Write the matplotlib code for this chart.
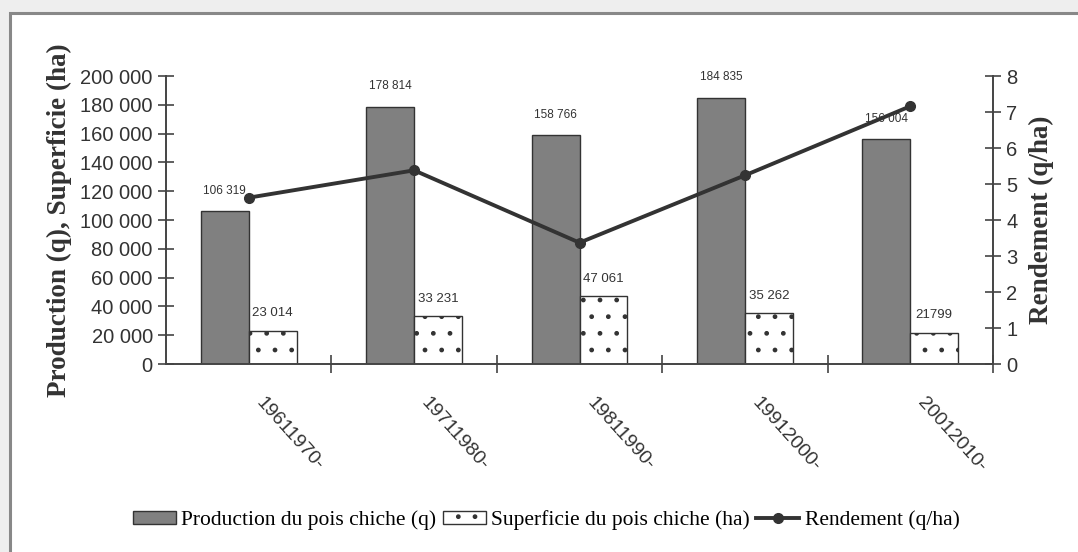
import matplotlib
matplotlib.use("Agg")
from matplotlib import pyplot as plt
from matplotlib.patches import Rectangle
from matplotlib.ticker import FuncFormatter
import numpy as np

# chickpea data per decade
periods = ['19611970-', '19711980-', '19811990-', '19912000-', '20012010-']
production = [106319, 178814, 158766, 184835, 156004]
superficie = [23014, 33231, 47061, 35262, 21799]
rendement = [4.62, 5.38, 3.37, 5.24, 7.16]

prod_labels = ['106 319', '178 814', '158 766', '184 835', '156 004']
sup_labels = ['23 014', '33 231', '47 061', '35 262', '21799']

serif = 'Liberation Serif'
sans = 'Liberation Sans'

fig = plt.figure(figsize=(10.78, 5.52), dpi=100)
fig.patch.set_facecolor('#eeeeee')
# white panel with grey border
fig.patches.append(Rectangle((10 / 1078, -0.05), 1.1, 1 - 13 / 552 + 0.05,
                             transform=fig.transFigure, facecolor='white',
                             edgecolor='#888888', linewidth=2.2, zorder=-10))

ax = fig.add_axes([166 / 1078, 1 - 364 / 552, 827 / 1078, 288 / 552])
ax.set_facecolor('none')
x = np.arange(len(periods))
w = 0.29

b1 = ax.bar(x - w / 2, production, w, color='#808080', edgecolor='#333333',
            linewidth=1.0, label='Production du pois chiche (q)', zorder=2)
b2 = ax.bar(x + w / 2, superficie, w, color='white', edgecolor='#333333',
            linewidth=1.0, hatch='.', label='Superficie du pois chiche (ha)', zorder=2)

for xi, v, t in zip(x, production, prod_labels):
    ax.text(xi - w / 2, v + 10000, t, ha='center', va='bottom', fontsize=8.5,
            family=sans, color='#333333')
for xi, v, t in zip(x, superficie, sup_labels):
    ax.text(xi + w / 2, v + 8000, t, ha='center', va='bottom', fontsize=9.5,
            family=sans, color='#333333')

ax.set_xlim(-0.5, len(periods) - 0.5)
ax.set_ylim(0, 200000)
ax.set_yticks(np.arange(0, 200001, 20000))
ax.yaxis.set_major_formatter(FuncFormatter(lambda v, p: f'{int(v):,}'.replace(',', ' ')))
# boundary ticks between decades, rotated decade labels just right of each centre
ax.set_xticks(x + 0.5, minor=False)
ax.set_xticklabels([])
ax.set_xticks(x + 0.1, minor=True)
ax.set_xticklabels(periods, minor=True, rotation=-48, ha='left', va='top',
                   rotation_mode='anchor', fontsize=14, family=sans, color='#333333')
ax.tick_params(axis='x', which='minor', length=0, pad=22)
ax.tick_params(axis='x', which='major', direction='inout', length=13, width=1.2,
               color='#444444')
ax.tick_params(axis='y', direction='inout', length=11, width=1.2, color='#444444',
               labelsize=14.5, labelcolor='#333333', pad=4)
for lab in ax.get_yticklabels():
    lab.set_family(sans)
for s in ['top', 'right']:
    ax.spines[s].set_visible(False)
for s in ['left', 'bottom']:
    ax.spines[s].set_color('#444444')
    ax.spines[s].set_linewidth(1.4)
ax.set_ylabel('Production (q), Superficie (ha)', family=serif, fontweight='bold',
              fontsize=19.5, color='#333333', labelpad=6)

ax2 = ax.twinx()
l1, = ax2.plot(x, rendement, color='#333333', linewidth=2.8, marker='o',
               markersize=7, label='Rendement (q/ha)', zorder=3)
ax2.set_ylim(0, 8)
ax2.set_yticks(range(0, 9))
ax2.tick_params(axis='y', direction='inout', length=11, width=1.2, color='#444444',
                labelsize=14.5, labelcolor='#333333', pad=4)
for lab in ax2.get_yticklabels():
    lab.set_family(sans)
for s in ['top', 'left', 'bottom']:
    ax2.spines[s].set_visible(False)
ax2.spines['right'].set_color('#444444')
ax2.spines['right'].set_linewidth(1.4)
ax2.set_ylabel('Rendement (q/ha)', family=serif, fontweight='bold', fontsize=19.5,
               color='#333333', labelpad=8)

fig.legend([b1, b2, l1], [b1.get_label(), b2.get_label(), l1.get_label()],
           loc='center', bbox_to_anchor=(546 / 1078, 1 - 520 / 552), ncol=3,
           frameon=False, prop={'family': serif, 'size': 15.5}, handlelength=2.0,
           handleheight=0.6, handletextpad=0.25, columnspacing=0.3)

fig.savefig('out.png', dpi=100)
